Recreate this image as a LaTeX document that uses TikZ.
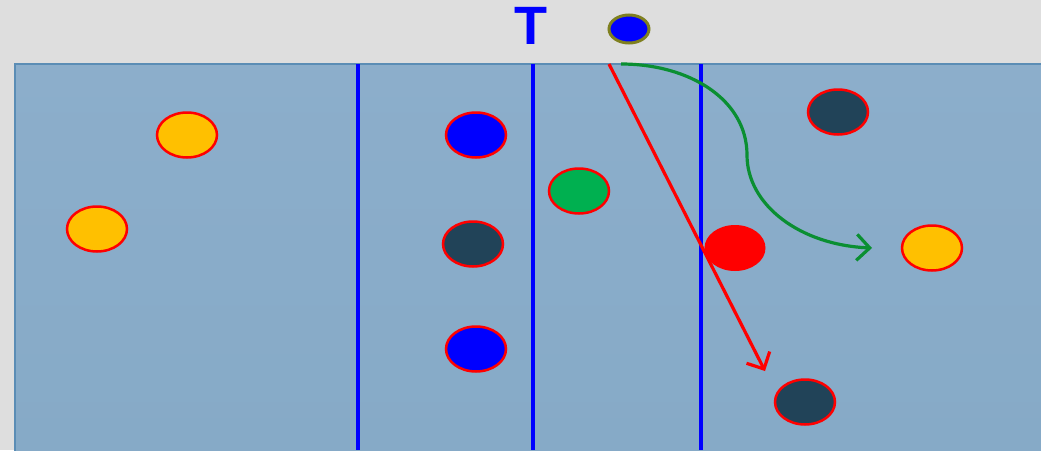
\documentclass[tikz,border=0pt]{standalone}
\usepackage{fontspec}
\setsansfont{Liberation Sans}
\usetikzlibrary{arrows.meta,shapes.geometric}
\definecolor{paper}{HTML}{DEDEDE}
\definecolor{pitchtop}{HTML}{8CAECB}
\definecolor{pitchbot}{HTML}{86AAC7}
\definecolor{pitchedge}{HTML}{5B8DB5}
\definecolor{gold}{HTML}{FFC000}
\definecolor{navy}{HTML}{214358}
\definecolor{mint}{HTML}{00B050}
\definecolor{olive}{HTML}{7F8020}
\definecolor{path}{HTML}{0A8F32}

\tikzset{
  player/.style={ellipse,draw=red,line width=2.5pt,minimum width=60pt,minimum height=45pt,inner sep=0pt},
  lane/.style={blue,line width=3.5pt},
  run/.style={line width=3.2pt,-{Straight Barb[length=13pt,width=26pt,line width=3.2pt]}}
}

\begin{document}
\begin{tikzpicture}[x=1pt,y=-1pt]
    \useasboundingbox (0,0) rectangle (1041,450);
    \fill[paper] (0,0) rectangle (1041,450);
    \shade[top color=pitchtop,bottom color=pitchbot] (15,64) rectangle (1041,450);
    \draw[pitchedge,line width=2pt] (15,452) |- (1043,64);
    \foreach \x in {358,533,701}{
      \draw[lane] (\x,64) -- (\x,450);}
    % players
    \foreach \name/\x/\y/\col in {y1/187/135/gold,y2/97/229/gold,y3/932/248/gold,
        b1/476/135/blue,b2/476/349/blue,d1/473/244/navy,d2/838/112/navy,d3/805/402/navy,g1/579/191/mint}{
      \node[player,fill=\col] (\name) at (\x,\y) {};}
    \node[ellipse,fill=red,minimum width=61pt,minimum height=46pt,inner sep=0pt] (r1) at (735,248) {};
    % ball and label
    \node[ellipse,draw=olive,fill=blue,line width=3pt,minimum width=40pt,minimum height=28pt,inner sep=0pt] (ball) at (629,29) {};
    \node[font=\sffamily\bfseries\fontsize{54}{54}\selectfont,text=blue,inner sep=0pt] (tag) at (531,26) {T};
    % runs
    \coordinate (s1) at (609,64);
    \coordinate (e1) at (765,371);
    \coordinate (s2) at (621,64);
    \coordinate (m2) at (747,155);
    \coordinate (e2) at (872,248);
    \draw[run,red] (s1) -- (e1);
    \draw[run,path] (s2) .. controls (690,64) and (747,100) .. (m2)
      .. controls (747,205) and (800,245) .. (e2);
  \end{tikzpicture}
\end{document}
